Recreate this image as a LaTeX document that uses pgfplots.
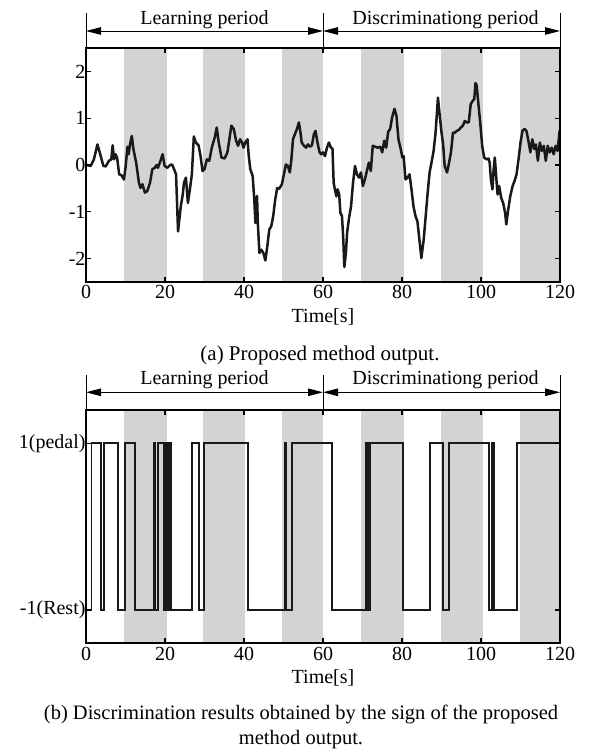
\documentclass[border=0pt]{standalone}
\usepackage{fontspec}
\setmainfont{Liberation Serif}
\usepackage{pgfplots}
\pgfplotsset{compat=1.18}
\usetikzlibrary{arrows.meta}
\definecolor{bandgray}{RGB}{209,211,212}
\newcommand{\fs}{\fontsize{20bp}{24bp}\selectfont}

\pgfplotsset{
  timeaxis/.style={
    scale only axis, width=474bp,
    xmin=0, xmax=120,
    xtick={0,20,40,60,80,100,120},
    xticklabels={0,20,40,60,80,100,120},
    tick align=inside, major tick length=5bp,
    axis line style={line width=1.6bp},
    every tick/.style={black, line width=1.1bp},
    axis on top, clip=false,
    tick label style={font=\fs},
    yticklabel style={xshift=3bp},
    xlabel={Time[s]},
    every axis x label/.style={at={(axis description cs:0.5,0)}, anchor=center, yshift=-34.6bp, font=\fs},
  },
}
\tikzset{period/.style={line width=0.9bp, {Triangle[length=15bp,width=7.5bp]}-{Triangle[length=15bp,width=7.5bp]}}}

\begin{document}
\begin{tikzpicture}[font=\fs]
\useasboundingbox (0,0) rectangle (595bp,756bp);

% (a) output of the proposed method
\begin{axis}[timeaxis, at={(86bp,474bp)}, anchor=south west, height=234bp,
  ymin=-2.5, ymax=2.5, ytick={-2,-1,0,1,2}, yticklabels={-2,-1,0,1,2}]
  \addplot[fill=bandgray, draw=none, forget plot] coordinates {(9.6,-2.5) (9.6,2.5) (20.4,2.5) (20.4,-2.5)} -- cycle;
  \addplot[fill=bandgray, draw=none, forget plot] coordinates {(29.7,-2.5) (29.7,2.5) (40.3,2.5) (40.3,-2.5)} -- cycle;
  \addplot[fill=bandgray, draw=none, forget plot] coordinates {(49.7,-2.5) (49.7,2.5) (60,2.5) (60,-2.5)} -- cycle;
  \addplot[fill=bandgray, draw=none, forget plot] coordinates {(69.6,-2.5) (69.6,2.5) (80.4,2.5) (80.4,-2.5)} -- cycle;
  \addplot[fill=bandgray, draw=none, forget plot] coordinates {(89.8,-2.5) (89.8,2.5) (100.4,2.5) (100.4,-2.5)} -- cycle;
  \addplot[fill=bandgray, draw=none, forget plot] coordinates {(109.8,-2.5) (109.8,2.5) (120,2.5) (120,-2.5)} -- cycle;
  \addplot[black!90, line width=2.5bp, line join=round] table {
    x y
    0 0
    0.2 0
    1.2 -0.02
    2.0 0.12
    2.9 0.44
    3.5 0.26
    4.4 -0.02
    5.0 -0.03
    5.8 0.09
    6.4 0.12
    6.75 0.42
    7.1 0.12
    7.5 0.23
    7.9 0.14
    8.4 -0.2
    9.0 -0.22
    9.6 -0.31
    10.0 -0.06
    10.5 0.39
    10.8 0.23
    11.1 0.42
    11.6 0.62
    12.0 0.34
    12.7 0.05
    13.4 -0.38
    13.8 -0.49
    14.3 -0.41
    14.9 -0.59
    15.5 -0.56
    16.2 -0.38
    16.8 -0.09
    17.4 -0.06
    17.9 0
    18.2 -0.06
    18.7 0.05
    19.4 0.23
    19.9 -0.02
    20.6 -0.06
    21.3 0
    21.8 0.01
    22.3 -0.09
    22.8 -0.2
    23.3 -1.42
    24.0 -0.88
    24.5 -0.63
    24.8 -0.38
    25.3 -0.27
    25.8 -0.81
    26.3 -0.52
    26.8 -0.2
    27.3 0.61
    27.8 0.48
    28.5 0.42
    29.0 0.19
    29.5 -0.13
    30.0 -0.09
    30.6 0.12
    31.2 0.09
    31.9 0.39
    32.6 0.59
    33.1 0.8
    33.6 0.48
    34.3 0.16
    35.1 0.14
    35.8 0.27
    36.3 0.55
    36.8 0.84
    37.4 0.77
    38.0 0.52
    38.5 0.41
    39.0 0.55
    39.5 0.48
    39.9 0.37
    40.3 0.48
    40.9 0.55
    41.2 0.19
    41.6 -0.09
    42.2 -0.24
    42.6 -0.74
    42.9 -1.24
    43.3 -0.66
    43.5 -1.24
    43.9 -1.88
    44.4 -1.81
    44.9 -1.88
    45.4 -2.04
    45.9 -1.74
    46.4 -1.38
    46.9 -1.31
    47.4 -1.09
    47.9 -0.74
    48.4 -0.49
    48.9 -0.51
    49.6 -0.41
    50.1 -0.2
    50.6 0.01
    51.1 -0.02
    51.6 -0.16
    52.0 0.12
    52.4 0.55
    52.9 0.66
    53.4 0.77
    53.9 0.91
    54.3 0.69
    54.6 0.48
    55.2 0.41
    55.7 0.37
    56.2 0.44
    56.7 0.39
    57.2 0.42
    57.7 0.66
    58.1 0.73
    58.6 0.48
    59.1 0.28
    59.5 0.23
    60.0 0.27
    60.5 0.19
    61.0 0.37
    61.5 0.48
    62.0 0.37
    62.4 0.35
    62.7 -0.38
    63.0 -0.52
    63.4 -0.67
    63.7 -0.52
    64.1 -0.63
    64.4 -1.02
    64.8 -1.09
    65.1 -1.52
    65.4 -2.18
    65.8 -1.88
    66.1 -1.45
    66.6 -1.13
    67.1 -0.88
    67.6 -0.38
    68.1 -0.02
    68.6 -0.2
    69.1 -0.27
    69.6 -0.16
    70.1 -0.45
    70.6 -0.31
    71.1 -0.13
    71.6 0.05
    72.1 -0.13
    72.6 0.41
    73.2 0.39
    73.8 0.37
    74.5 0.39
    75.0 0.27
    75.5 0.52
    76.0 0.37
    76.5 0.71
    77.0 0.77
    77.5 1.02
    78.1 1.2
    78.6 1.05
    79.1 0.55
    79.6 0.37
    80.1 0.16
    80.4 0.19
    80.9 -0.31
    81.4 -0.27
    81.9 -0.2
    82.4 -0.52
    82.9 -0.88
    83.4 -1.09
    83.9 -1.2
    84.4 -1.59
    84.9 -1.99
    85.5 -1.59
    86.0 -1.09
    86.5 -0.59
    87.0 -0.15
    87.4 0.02
    88.0 0.3
    88.5 0.69
    89.1 1.44
    89.5 1.1
    90.0 0.7
    90.4 0.45
    90.8 -0.02
    91.4 -0.16
    91.8 0.0
    92.4 0.27
    92.9 0.69
    93.4 0.69
    93.9 0.73
    94.4 0.75
    94.9 0.8
    95.4 0.84
    95.9 0.94
    96.4 0.91
    96.9 0.91
    97.4 1.3
    97.9 1.37
    98.3 1.41
    98.6 1.75
    98.9 1.7
    99.3 1.34
    99.8 0.91
    100.3 0.41
    100.8 0.16
    101.4 0.12
    101.9 0.14
    102.2 0.05
    102.5 -0.31
    102.9 -0.52
    103.2 -0.09
    103.5 0.16
    103.9 -0.31
    104.2 -0.63
    104.6 -0.45
    105.1 -0.7
    105.6 -0.81
    106.1 -1.02
    106.4 -1.27
    106.9 -0.95
    107.4 -0.67
    108.0 -0.45
    108.5 -0.34
    109.0 -0.2
    109.5 0.12
    110.0 0.48
    110.5 0.73
    111.0 0.77
    111.5 0.73
    112.0 0.52
    112.5 0.27
    113.0 0.55
    113.5 0.34
    113.9 0.44
    114.4 0.09
    114.9 0.48
    115.4 0.3
    115.9 0.41
    116.4 0.09
    116.9 0.41
    117.4 0.27
    117.9 0.37
    118.4 0.23
    118.9 0.41
    119.4 0.3
    119.9 0.73
    120 0.73
  };
  \draw[line width=0.9bp] (axis cs:0,2.5) -- ([yshift=35bp]axis cs:0,2.5);
  \draw[line width=0.9bp] (axis cs:60,2.5) -- ([yshift=35bp]axis cs:60,2.5);
  \draw[line width=0.9bp] (axis cs:120,2.5) -- ([yshift=35bp]axis cs:120,2.5);
  \draw[period] ([yshift=17bp]axis cs:0,2.5) -- ([yshift=17bp]axis cs:60,2.5);
  \draw[period] ([yshift=17bp]axis cs:60,2.5) -- ([yshift=17bp]axis cs:120,2.5);
  \node[anchor=base] at ([yshift=23.7bp]axis cs:30,2.5) {Learning period};
  \node[anchor=base] at ([yshift=23.7bp]axis cs:91,2.5) {Discriminationg period};
\end{axis}

% (b) sign of the output
\begin{axis}[timeaxis, at={(86bp,112.7bp)}, anchor=south west, height=233.3bp,
  ymin=-1.4, ymax=1.4, ytick={-1,1}, yticklabels={-1(Rest),1(pedal)}]
  \addplot[fill=bandgray, draw=none, forget plot] coordinates {(9.6,-1.4) (9.6,1.4) (20.4,1.4) (20.4,-1.4)} -- cycle;
  \addplot[fill=bandgray, draw=none, forget plot] coordinates {(29.7,-1.4) (29.7,1.4) (40.3,1.4) (40.3,-1.4)} -- cycle;
  \addplot[fill=bandgray, draw=none, forget plot] coordinates {(49.7,-1.4) (49.7,1.4) (60,1.4) (60,-1.4)} -- cycle;
  \addplot[fill=bandgray, draw=none, forget plot] coordinates {(69.6,-1.4) (69.6,1.4) (80.4,1.4) (80.4,-1.4)} -- cycle;
  \addplot[fill=bandgray, draw=none, forget plot] coordinates {(89.8,-1.4) (89.8,1.4) (100.4,1.4) (100.4,-1.4)} -- cycle;
  \addplot[fill=bandgray, draw=none, forget plot] coordinates {(109.8,-1.4) (109.8,1.4) (120,1.4) (120,-1.4)} -- cycle;
  \addplot[black!90, line width=1.9bp, const plot] table {
    x y
    0 -1
    1.4 1
    3.7 -1
    4.6 1
    8.0 -1
    9.8 1
    12.5 -1
    17.3 1
    17.6 -1
    18.2 1
    19.7 -1
    20.0 1
    20.3 -1
    20.6 1
    20.9 -1
    21.2 1
    21.6 -1
    26.8 1
    28.7 -1
    29.9 1
    41.0 -1
    50.3 1
    50.7 -1
    52.2 1
    62.2 -1
    70.9 1
    71.3 -1
    71.9 1
    80.2 -1
    87.2 1
    90.3 -1
    91.8 1
    102.1 -1
    102.7 1
    103.3 -1
    109.2 1
    120 1
  };
  \draw[line width=0.9bp] (axis cs:0,1.4) -- ([yshift=35bp]axis cs:0,1.4);
  \draw[line width=0.9bp] (axis cs:60,1.4) -- ([yshift=35bp]axis cs:60,1.4);
  \draw[line width=0.9bp] (axis cs:120,1.4) -- ([yshift=35bp]axis cs:120,1.4);
  \draw[period] ([yshift=17.7bp]axis cs:0,1.4) -- ([yshift=17.7bp]axis cs:60,1.4);
  \draw[period] ([yshift=17.7bp]axis cs:60,1.4) -- ([yshift=17.7bp]axis cs:120,1.4);
  \node[anchor=base] at ([yshift=25.5bp]axis cs:30,1.4) {Learning period};
  \node[anchor=base] at ([yshift=25.5bp]axis cs:91,1.4) {Discriminationg period};
\end{axis}

\node[font=\fontsize{21bp}{25bp}\selectfont] at (320bp,401bp) {(a) Proposed method output.};
\node[font=\fontsize{20.5bp}{25bp}\selectfont, align=center] at (301bp,29.5bp)
  {(b) Discrimination results obtained by the sign of the proposed\\method output.};
\end{tikzpicture}
\end{document}
